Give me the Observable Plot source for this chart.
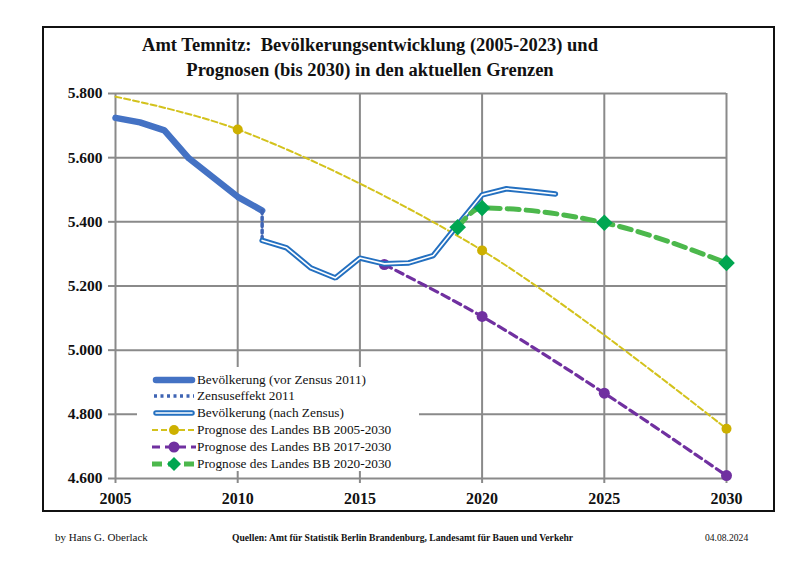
<!DOCTYPE html>
<html>
<head>
<meta charset="utf-8">
<script src="https://cdn.jsdelivr.net/npm/d3@7"></script>
<script src="https://cdn.jsdelivr.net/npm/@observablehq/plot@0.6"></script>
<style>
  body { margin: 0; background: #fff; }
  #page { position: relative; width: 800px; height: 566px; background: #fff; overflow: hidden; font-family: "Liberation Serif", "DejaVu Serif", serif; }
  #chart { position: absolute; left: 0; top: 0; }
  #frame { position: absolute; left: 42px; top: 26px; width: 729px; height: 482px; border: 2px solid #111; pointer-events: none; }
  #title { position: absolute; left: 110px; width: 520px; top: 33px; text-align: center; font-weight: bold; font-size: 18.5px; line-height: 25px; color: #111; }
  #legend { position: absolute; left: 137px; top: 367px; width: 282px; height: 104px; background: #fff; }
  .row { position: absolute; left: 0; height: 16px; width: 282px; }
  .row svg { position: absolute; left: 15px; top: 1px; }
  .row span { position: absolute; left: 60px; top: 0; font-size: 13.3px; line-height: 16px; color: #111; white-space: nowrap; }
  .foot { position: absolute; top: 531px; font-size: 11px; color: #111; white-space: nowrap; }
</style>
</head>
<body>
<div id="page">
  <div id="chart"></div>
  <div id="frame"></div>
  <div id="title">Amt Temnitz:&nbsp; Bevölkerungsentwicklung (2005-2023) und<br>Prognosen (bis 2030) in den aktuellen Grenzen</div>
  <div id="legend"></div>
  <div class="foot" style="left:55px;">by Hans G. Oberlack</div>
  <div class="foot" style="left:232px;font-size:9.6px;font-weight:bold;top:532px;">Quellen: Amt für Statistik Berlin Brandenburg, Landesamt für Bauen und Verkehr</div>
  <div class="foot" style="left:705px;font-size:9.6px;top:532px;">04.08.2024</div>
</div>
<script>
// ---- data ----
const preYears = [2005, 2006, 2007, 2008, 2009, 2010, 2011];
const preValues = [5724, 5710, 5685, 5598, 5538, 5478, 5435];

const postYears = [2011, 2012, 2013, 2014, 2015, 2016, 2017, 2018, 2019, 2020, 2021, 2022, 2023];
const postValues = [5342, 5319, 5256, 5225, 5287, 5269, 5272, 5295, 5390, 5484, 5503, 5495, 5487];

const prog2005Years = [2005, 2010, 2020, 2030];
const prog2005Values = [5790, 5688, 5311, 4755];

const prog2017Years = [2016, 2020, 2025, 2030];
const prog2017Values = [5267, 5105, 4866, 4609];

const prog2020Years = [2019, 2020, 2025, 2030];
const prog2020Values = [5383, 5443, 5397, 5272];

const xTicks = [2005, 2010, 2015, 2020, 2025, 2030];
const yTicks = [4600, 4800, 5000, 5200, 5400, 5600, 5800];

const legendLabels = [
  "Bevölkerung (vor Zensus 2011)",
  "Zensuseffekt 2011",
  "Bevölkerung (nach Zensus)",
  "Prognose des Landes BB 2005-2030",
  "Prognose des Landes BB 2017-2030",
  "Prognose des Landes BB 2020-2030"
];

// ---- build tables ----
const zip = (xs, ys) => xs.map((x, i) => ({year: x, value: ys[i]}));
const pre = zip(preYears, preValues);
const post = zip(postYears, postValues);
const census = [pre[pre.length - 1], post[0]];
const p05 = zip(prog2005Years, prog2005Values);
const p17 = zip(prog2017Years, prog2017Values);
const p20 = zip(prog2020Years, prog2020Values);

const de = d3.formatLocale({decimal: ",", thousands: ".", grouping: [3], currency: ["", " €"]});
const yFmt = de.format(",");

const C = {
  pre: "#4472c4", census: "#3f64b4", post: "#2470c0",
  yLine: "#d3c21c", yDot: "#cdb000",
  purple: "#7030a0",
  gLine: "#4cb84c", gDot: "#00a651",
  grid: "#8a8a8a"
};

const chart = Plot.plot({
  width: 800, height: 566,
  marginLeft: 115, marginRight: 74, marginTop: 93, marginBottom: 88,
  x: {domain: [2005, 2030]},
  y: {domain: [4600, 5800]},
  style: {background: "transparent", fontFamily: "'Liberation Serif', serif"},
  marks: [
    Plot.gridX(xTicks, {stroke: C.grid, strokeOpacity: 1, strokeWidth: 2}),
    Plot.gridY(yTicks, {stroke: C.grid, strokeOpacity: 1, strokeWidth: 2}),
    Plot.axisY(yTicks, {tickFormat: yFmt, tickSize: 7, tickPadding: 6, stroke: C.grid, strokeWidth: 2, fill: "#111", fontSize: 15.5, fontWeight: "bold", label: null}),
    Plot.axisX(xTicks, {tickFormat: d => String(d), tickSize: 5, tickPadding: 9, stroke: C.grid, strokeWidth: 2, fill: "#111", fontSize: 16, fontWeight: "bold", label: null}),
    // Prognose 2005-2030
    Plot.line(p05, {x: "year", y: "value", curve: "catmull-rom", stroke: C.yLine, strokeWidth: 2, strokeDasharray: "6,3"}),
    Plot.dot(p05.filter(d => d.year > 2005), {x: "year", y: "value", r: 5, fill: C.yDot, stroke: "none"}),
    // Prognose 2017-2030
    Plot.line(p17, {x: "year", y: "value", curve: "catmull-rom", stroke: C.purple, strokeWidth: 3.2, strokeDasharray: "8,5"}),
    Plot.dot(p17, {x: "year", y: "value", r: 5.5, fill: C.purple, stroke: "none"}),
    // pre census
    Plot.line(pre, {x: "year", y: "value", stroke: C.pre, strokeWidth: 6.5, strokeLinecap: "round", strokeLinejoin: "round"}),
    // census effect
    Plot.line(census, {x: "year", y: "value", stroke: C.census, strokeWidth: 3.5, strokeDasharray: "3,3.5"}),
    // post census double line
    Plot.line(post, {x: "year", y: "value", stroke: C.post, strokeWidth: 5.5, strokeLinejoin: "miter"}),
    Plot.line(post, {x: "year", y: "value", stroke: "#fff", strokeWidth: 1.6, strokeLinejoin: "miter"}),
    // Prognose 2020-2030
    Plot.line(p20, {x: "year", y: "value", curve: "monotone-x", stroke: C.gLine, strokeWidth: 5, strokeDasharray: "12,7"}),
    Plot.dot(p20, {x: "year", y: "value", symbol: "diamond2", r: 7.5, fill: C.gDot, stroke: "none"})
  ]
});
document.getElementById("chart").appendChild(chart);

// ---- legend ----
const swatches = [
  `<line x1="4" x2="40" y1="7" y2="7" stroke="${C.pre}" stroke-width="6.5" stroke-linecap="round"/>`,
  `<line x1="2" x2="42" y1="7" y2="7" stroke="${C.census}" stroke-width="3.5" stroke-dasharray="3,3.5"/>`,
  `<line x1="4" x2="40" y1="7" y2="7" stroke="${C.post}" stroke-width="5.5" stroke-linecap="round"/><line x1="4" x2="40" y1="7" y2="7" stroke="#fff" stroke-width="1.6" stroke-linecap="round"/>`,
  `<line x1="0" x2="44" y1="7" y2="7" stroke="${C.yLine}" stroke-width="2" stroke-dasharray="6,3"/><circle cx="22" cy="7" r="5" fill="${C.yDot}"/>`,
  `<line x1="0" x2="44" y1="7" y2="7" stroke="${C.purple}" stroke-width="3.2" stroke-dasharray="8,5"/><circle cx="22" cy="7" r="5.5" fill="${C.purple}"/>`,
  `<line x1="0" x2="44" y1="7" y2="7" stroke="${C.gLine}" stroke-width="5" stroke-dasharray="10,6"/><path d="M15,7 L22,0 L29,7 L22,14 Z" fill="${C.gDot}"/>`
];
const rowTops = [5, 21, 38, 55, 72, 89];
const leg = document.getElementById("legend");
legendLabels.forEach((lab, i) => {
  const row = document.createElement("div");
  row.className = "row";
  row.style.top = rowTops[i] + "px";
  row.innerHTML = `<svg width="44" height="14" viewBox="0 0 44 14">${swatches[i]}</svg><span>${lab}</span>`;
  leg.appendChild(row);
});
</script>
</body>
</html>
